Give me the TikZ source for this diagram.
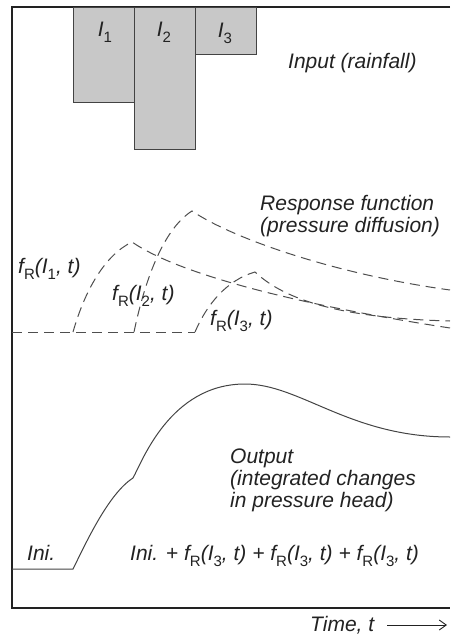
\documentclass[tikz,border=0pt]{standalone}
\usepackage{fontspec}
\setmainfont{Liberation Sans}
\usetikzlibrary{arrows.meta,positioning}
\definecolor{ink}{HTML}{222222}
\definecolor{barfill}{HTML}{C8C8C8}
\newcommand{\lowsub}[1]{\raisebox{-6pt}{\fontsize{15}{15}\selectfont\upshape #1}}
\newcommand{\fR}[1]{f\lowsub{R}(I\lowsub{#1}, t)}

\begin{document}
\begin{tikzpicture}[
  x=1pt, y=-1pt,
  txt/.style={font=\fontsize{21}{22}\selectfont\itshape, text=ink, inner sep=0pt},
  bar/.style={draw=ink!85, fill=barfill, line width=0.8pt},
  response/.style={draw=ink!80, line width=1pt, dash pattern=on 10pt off 6pt},
  output/.style={draw=ink!85, line width=1pt},
  axisline/.style={draw=ink, line width=1.5pt},
  timearrow/.style={draw=ink, line width=0.9pt, -{Straight Barb[length=7pt, width=10pt]}}
]
\useasboundingbox (0,0) rectangle (450,637);

% Frame of the plot
\draw[axisline] (450,7) -- (12,7) -- (12,608) -- (450,608);

% Input: rainfall bars
\draw[bar] (73,7) rectangle (134,102);
\draw[bar] (134,7) rectangle (195,149);
\draw[bar] (195,7) rectangle (256,54);
\node[txt, anchor=base] (I1) at (105,36) {I\lowsub{1}};
\node[txt, anchor=base] (I2) at (164,36) {I\lowsub{2}};
\node[txt, anchor=base] (I3) at (225,37) {I\lowsub{3}};
\node[txt, anchor=base west] (input) at (288,68) {Input (rainfall)};

% Response functions (dashed)
\draw[response] (12,332) -- (195,332);
\draw[response] (73,332) .. controls (85,290) and (105,255) .. (132,242)
  .. controls (180,275) and (300,305) .. (450,328);
\draw[response] (134,332) .. controls (146,275) and (165,228) .. (192,211)
  .. controls (235,240) and (340,275) .. (450,290);
\draw[response] (195,332) .. controls (207,304) and (227,280) .. (255,272)
  .. controls (285,300) and (340,318) .. (450,321);
\node[txt, anchor=base west, align=left] (resp) at (260,232) {Response function\\(pressure diffusion)};
\node[txt, anchor=base west] (fR1) at (18,273) {\fR{1}};
\node[txt, anchor=base west] (fR2) at (112,300) {\fR{2}};
\node[txt, anchor=base west] (fR3) at (210,325) {\fR{3}};

% Output: integrated changes
\draw[output] (12,569) -- (73,569) .. controls (85,545) and (108,494) .. (133,478)
  .. controls (142,462) and (170,384) .. (245,384)
  .. controls (300,384) and (350,437) .. (450,437);
\node[txt, anchor=base west, align=left] (out) at (230,507) {Output\\(integrated changes\\in pressure head)};
\node[txt, anchor=base west] (ini) at (27,560) {Ini.};
\node[txt, anchor=base west] (sum) at (130,560) {Ini. + \fR{3} + \fR{3} + \fR{3}};

% Time axis label
\node[txt, anchor=base west] (time) at (310,631) {Time, t};
\coordinate (tend) at (447,625);
\draw[timearrow] (time.east |- tend) ++(13,0) -- (tend);

\end{tikzpicture}
\end{document}
